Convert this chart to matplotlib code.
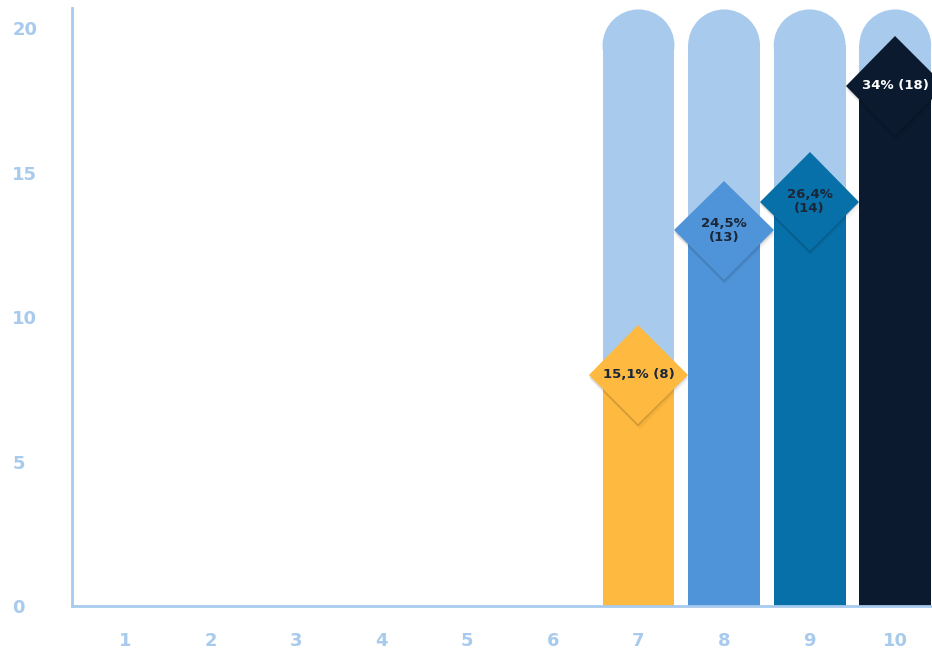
import matplotlib
matplotlib.use("Agg")
import matplotlib.pyplot as plt
import matplotlib.patheffects as pe
from matplotlib.patches import Rectangle, Ellipse

plt.rcParams['font.family'] = ['DejaVu Sans']
plt.rcParams['font.weight'] = 'bold'

# data
categories = [1, 2, 3, 4, 5, 6, 7, 8, 9, 10]
counts = [0, 0, 0, 0, 0, 0, 8, 13, 14, 18]
percents = ['', '', '', '', '', '', '15,1%', '24,5%', '26,4%', '34%']
label_lines = [1, 1, 1, 1, 1, 1, 1, 2, 2, 1]
bar_colors = ['#fdb940'] * 7 + ['#4f94d8', '#0870a8', '#0b1a2e']
text_colors = ['#1b2638'] * 9 + ['white']
y_ticks = [0, 5, 10, 15, 20]

axis_blue = '#a8caec'
y_top = 20.7
bar_w = 0.84

fig = plt.figure(figsize=(9.32, 6.55), dpi=100)
ax = fig.add_axes([72 / 932, 49 / 655, 866 / 932, 598 / 655])
ax.set_xlim(0.38, 10.5)
ax.set_ylim(0, y_top)

# px per data unit, used to keep the rounded caps circular
px_x = 866 / (10.5 - 0.38)
px_y = 598 / y_top
cap_h = (bar_w * px_x / 2) / px_y

for x, c in zip(categories, counts):
    if c == 0:
        continue
    # light track with a rounded top
    ax.add_patch(Rectangle((x - bar_w / 2, 0), bar_w, y_top - 0.05 - cap_h,
                           facecolor=axis_blue, edgecolor='none', zorder=1))
    ax.add_patch(Ellipse((x, y_top - 0.05 - cap_h), bar_w, 2 * cap_h,
                         facecolor=axis_blue, edgecolor='none', zorder=1))

ax.bar(categories, counts, width=bar_w, color=bar_colors, zorder=2)

# soft drop shadow: a few stacked faint copies
shadow = [pe.SimplePatchShadow(offset=(0, -1), shadow_rgbFace='black', alpha=0.08),
          pe.SimplePatchShadow(offset=(0, -2), shadow_rgbFace='black', alpha=0.06),
          pe.SimplePatchShadow(offset=(1, -3), shadow_rgbFace='black', alpha=0.04),
          pe.Normal()]
for x, c, p, n, bc, tc in zip(categories, counts, percents, label_lines, bar_colors, text_colors):
    if c == 0:
        continue
    ax.plot([x], [c], marker='D', markersize=50.5, color=bc, markeredgewidth=0,
            linestyle='none', clip_on=False, zorder=3, path_effects=shadow)
    sep = '\n' if n == 2 else ' '
    ax.text(x, c, f'{p}{sep}({c})', ha='center', va='center', fontsize=9.5,
            fontweight='bold', color=tc, linespacing=1.15, zorder=4)

for s in ['top', 'right']:
    ax.spines[s].set_visible(False)
for s in ['left', 'bottom']:
    ax.spines[s].set_color(axis_blue)
    ax.spines[s].set_linewidth(2)

ax.set_xticks(categories)
ax.set_yticks(y_ticks)
ax.tick_params(axis='both', length=0, colors=axis_blue, labelsize=13)
ax.tick_params(axis='x', pad=19)
ax.tick_params(axis='y', pad=43)
for lbl in ax.get_yticklabels():
    lbl.set_horizontalalignment('left')

fig.savefig('out.png', dpi=100)
